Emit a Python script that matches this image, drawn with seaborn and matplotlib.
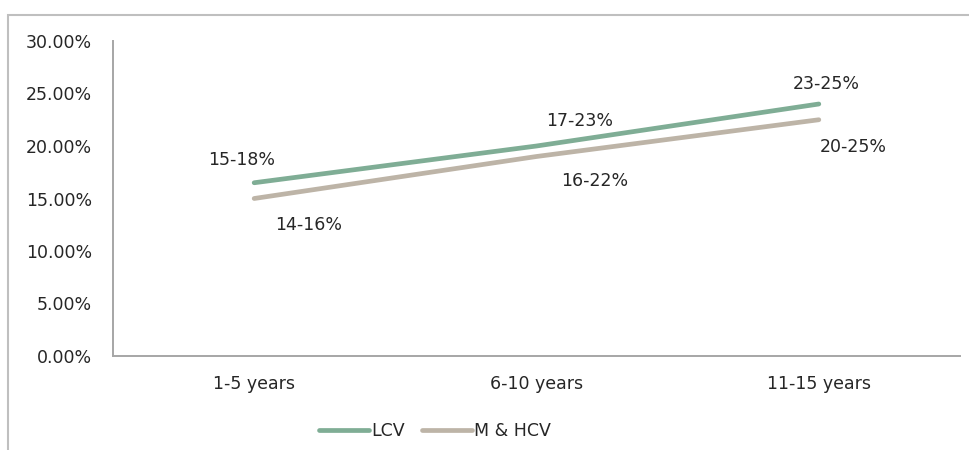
import matplotlib
matplotlib.use("Agg")
import matplotlib.pyplot as plt
import matplotlib.patches as mpatches
from matplotlib.ticker import PercentFormatter
import seaborn as sns
import pandas as pd

# Vehicle age buckets and mid-points of the quoted ranges
age_buckets = ["1-5 years", "6-10 years", "11-15 years"]
lcv_values = [0.165, 0.20, 0.24]
mhcv_values = [0.15, 0.19, 0.225]
lcv_labels = ["15-18%", "17-23%", "23-25%"]
mhcv_labels = ["14-16%", "16-22%", "20-25%"]
series_names = ["LCV", "M & HCV"]

df = pd.DataFrame({
    "age": age_buckets * 2,
    "value": lcv_values + mhcv_values,
    "series": [series_names[0]] * 3 + [series_names[1]] * 3,
})

sns.set_theme(style="white")
plt.rcParams["font.family"] = ["DejaVu Sans"]
text_color = "#262626"
axis_color = "#a6a6a6"
palette = {"LCV": "#7fad95", "M & HCV": "#bdb4a7"}

fig = plt.figure(figsize=(9.7, 4.5), dpi=100)
ax = fig.add_axes([113 / 970, 1 - 356 / 450, (960 - 113) / 970, (356 - 41) / 450])

sns.lineplot(data=df, x="age", y="value", hue="series", palette=palette,
             linewidth=3.4, sort=False, ax=ax, legend=True)

ax.set_xlim(-0.5, 2.5)
ax.set_ylim(0, 0.30)
ax.set_yticks([0, 0.05, 0.10, 0.15, 0.20, 0.25, 0.30])
ax.yaxis.set_major_formatter(PercentFormatter(1.0, decimals=2))
ax.set_xlabel("")
ax.set_ylabel("")
for side in ("top", "right"):
    ax.spines[side].set_visible(False)
for side in ("left", "bottom"):
    ax.spines[side].set_color(axis_color)
    ax.spines[side].set_linewidth(1.4)
ax.tick_params(axis="y", length=0, pad=15, labelsize=12.5, labelcolor=text_color)
ax.tick_params(axis="x", length=0, pad=14, labelsize=12.5, labelcolor=text_color)

# Range labels next to each point
lcv_offsets = [(-9, 16.5), (31, 18), (5, 14.5)]
mhcv_offsets = [(39.5, -19), (42, -18), (25, -19.5)]
for i in range(3):
    ax.annotate(lcv_labels[i], (i, lcv_values[i]), xytext=lcv_offsets[i],
                textcoords="offset points", ha="center", va="center",
                fontsize=12.5, color=text_color)
    ax.annotate(mhcv_labels[i], (i, mhcv_values[i]), xytext=mhcv_offsets[i],
                textcoords="offset points", ha="center", va="center",
                fontsize=12.5, color=text_color)

handles, labels = ax.get_legend_handles_labels()
ax.get_legend().remove()
fig.legend(handles, labels, loc="center", bbox_to_anchor=(435 / 970, 1 - 431 / 450),
           ncol=2, frameon=False, fontsize=12.5, handlelength=2.9,
           handletextpad=0.1, columnspacing=1.0, labelcolor=text_color)

# Chart-area border
fig.patches.append(mpatches.Rectangle((8 / 970, -0.1), 1.2, 1 - 15 / 450 + 0.1,
                                      transform=fig.transFigure, fill=False,
                                      edgecolor="#bfbfbf", linewidth=1.5))

fig.savefig("out.png", dpi=100)
